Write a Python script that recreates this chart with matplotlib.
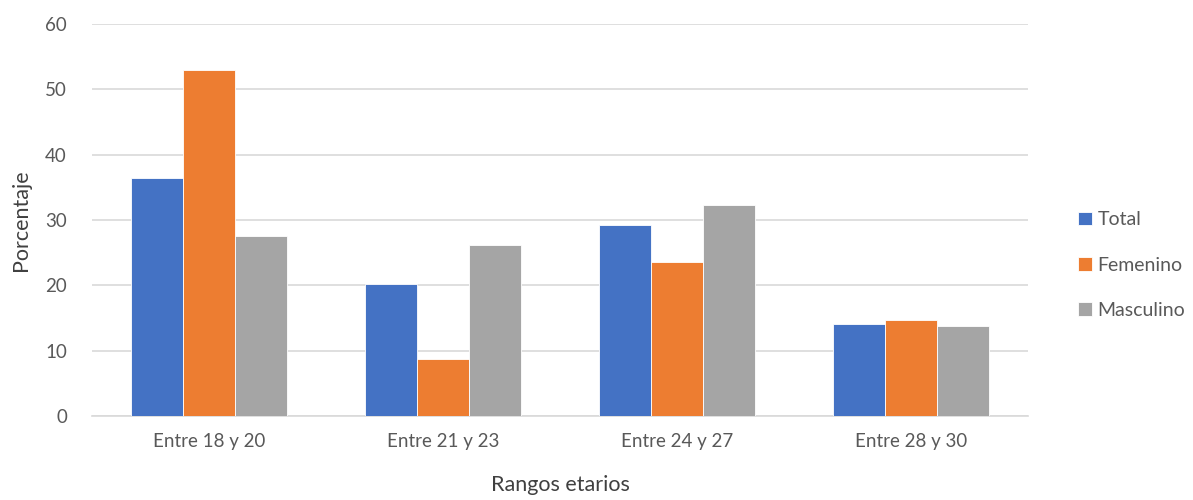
import matplotlib
matplotlib.use("Agg")
import matplotlib.pyplot as plt
import numpy as np

categories = ["Entre 18 y 20", "Entre 21 y 23", "Entre 24 y 27", "Entre 28 y 30"]
series_names = ["Total", "Femenino", "Masculino"]
total = [36.4, 20.2, 29.2, 14.1]
femenino = [52.9, 8.8, 23.6, 14.7]
masculino = [27.6, 26.1, 32.3, 13.8]
colors = ["#4472C4", "#ED7D31", "#A5A5A5"]
y_ticks = [0, 10, 20, 30, 40, 50, 60]

plt.rcParams["font.family"] = ["Lato", "DejaVu Sans"]

fig = plt.figure(figsize=(11.93, 5.0), dpi=100)
ax = fig.add_axes([0.0771, 0.168, 0.7846, 0.784])

x = np.arange(len(categories))
width = 0.222
for i, (vals, name, c) in enumerate(zip([total, femenino, masculino], series_names, colors)):
    ax.bar(x + (i - 1) * width, vals, width, color=c, label=name,
           edgecolor="white", linewidth=0.6, zorder=3)

ax.set_xlim(-0.5, len(categories) - 0.5)
ax.set_ylim(0, 60)
ax.set_yticks(y_ticks)
ax.set_xticks(x)
ax.set_xticklabels(categories)
ax.tick_params(axis="both", length=0, labelsize=13.5, colors="#595959")
ax.tick_params(axis="x", pad=12)
ax.tick_params(axis="y", pad=18)
ax.grid(axis="y", color="#D9D9D9", linewidth=1.2, zorder=0)
for s in ["top", "right", "left"]:
    ax.spines[s].set_visible(False)
ax.spines["bottom"].set_color("#D9D9D9")
ax.spines["bottom"].set_linewidth(1.2)

ax.set_xlabel("Rangos etarios", fontsize=15.5, color="#404040", labelpad=18)
ax.set_ylabel("Porcentaje", fontsize=15.5, color="#404040", labelpad=10)

leg = ax.legend(loc="center left", bbox_to_anchor=(1.035, 0.385), frameon=False,
                fontsize=14, labelcolor="#595959", handlelength=0.7,
                handleheight=0.7, handletextpad=0.3, labelspacing=1.45)

fig.savefig("out.png", dpi=100)
